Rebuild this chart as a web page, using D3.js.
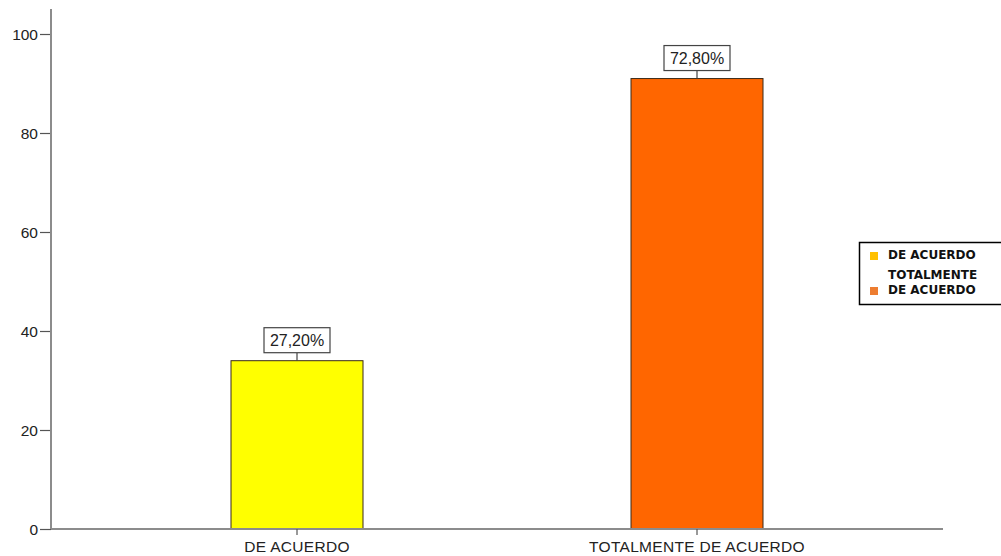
<!DOCTYPE html>
<html>
<head>
<meta charset="utf-8">
<script src="https://cdn.jsdelivr.net/npm/d3@7"></script>
<style>
  html, body { margin: 0; padding: 0; background: #fff; }
  svg { display: block; }
</style>
</head>
<body>
<svg id="chart" width="1001" height="556"></svg>
<script>
// Response categories and their counts
const categories = ["DE ACUERDO", "TOTALMENTE DE ACUERDO"];
const counts = [34, 91];
const barColors = ["#FFFF00", "#FF6600"];
const yTicks = [0, 20, 40, 60, 80, 100];
const legendLabels = [["DE ACUERDO"], ["TOTALMENTE", "DE ACUERDO"]];
const legendColors = ["#FFC000", "#ED7D31"];

const total = d3.sum(counts);
const pctLabel = v => (v / total * 100).toFixed(2).replace(".", ",") + "%";

const svg = d3.select("#chart");
const axisColor = "#8c8c8c";
const font = "'Liberation Sans', Arial, sans-serif";

const y = d3.scaleLinear().domain([0, 100]).range([529, 34]);
const x = d3.scaleBand().domain(categories).range([97, 897])
  .paddingInner(0.67).paddingOuter(0.335);

// Y axis
const yAxis = svg.append("g").attr("transform", "translate(51,0)")
  .call(d3.axisLeft(y).tickValues(yTicks).tickSize(11).tickPadding(2));
yAxis.select(".domain").remove();
yAxis.selectAll(".tick line").attr("stroke", "#555").attr("stroke-width", 1.2);
yAxis.selectAll(".tick text").attr("font-family", font).attr("font-size", 15.5)
  .attr("fill", "#222").attr("dy", "0.35em");
svg.append("line").attr("x1", 51).attr("x2", 51).attr("y1", 9).attr("y2", 529)
  .attr("stroke", axisColor).attr("stroke-width", 2);

// Bars
svg.selectAll("rect.bar").data(categories).join("rect")
  .attr("class", "bar")
  .attr("x", d => x(d))
  .attr("width", x.bandwidth())
  .attr("y", (d, i) => y(counts[i]))
  .attr("height", (d, i) => y(0) - y(counts[i]))
  .attr("fill", (d, i) => barColors[i])
  .attr("stroke", "#3a2a1a").attr("stroke-width", 1);

// X axis
svg.append("line").attr("x1", 51).attr("x2", 943).attr("y1", 529).attr("y2", 529)
  .attr("stroke", axisColor).attr("stroke-width", 2);
const xAxis = svg.append("g").attr("transform", "translate(0,529)")
  .call(d3.axisBottom(x).tickSize(6).tickPadding(6));
xAxis.select(".domain").remove();
xAxis.selectAll(".tick line").attr("stroke", "#555").attr("stroke-width", 1.2);
xAxis.selectAll(".tick text").attr("font-family", font).attr("font-size", 15.5)
  .attr("fill", "#222").attr("letter-spacing", "0.3px");

// Percentage labels in boxes above bars
const labels = svg.selectAll("g.lbl").data(categories).join("g").attr("class", "lbl")
  .attr("transform", (d, i) => `translate(${x(d) + x.bandwidth() / 2},${y(counts[i])})`);
labels.append("line").attr("x1", 0).attr("x2", 0).attr("y1", 0).attr("y2", -8)
  .attr("stroke", "#444").attr("stroke-width", 1.2);
labels.append("rect").attr("x", -33).attr("y", -33).attr("width", 66).attr("height", 25)
  .attr("fill", "#fff").attr("stroke", "#444").attr("stroke-width", 1.2);
labels.append("text").attr("x", 0).attr("y", -15).attr("text-anchor", "middle")
  .attr("font-family", font).attr("font-size", 16).attr("fill", "#222")
  .text((d, i) => pctLabel(counts[i]));

// Legend
const lg = svg.append("g");
lg.append("rect").attr("x", 859.5).attr("y", 242.5).attr("width", 150).attr("height", 62)
  .attr("fill", "#fff").attr("stroke", "#000").attr("stroke-width", 1.5);
const legendFont = "'DejaVu Sans', sans-serif";
const swatchY = [252, 287];
const lineY = [[259], [279, 294]];
legendLabels.forEach((lines, i) => {
  lg.append("rect").attr("x", 870).attr("y", swatchY[i]).attr("width", 8).attr("height", 8)
    .attr("fill", legendColors[i]);
  lines.forEach((t, j) => {
    lg.append("text").attr("x", 888).attr("y", lineY[i][j])
      .attr("font-family", legendFont).attr("font-size", 12).attr("font-weight", 700)
      .attr("fill", "#111").text(t);
  });
});
</script>
</body>
</html>
